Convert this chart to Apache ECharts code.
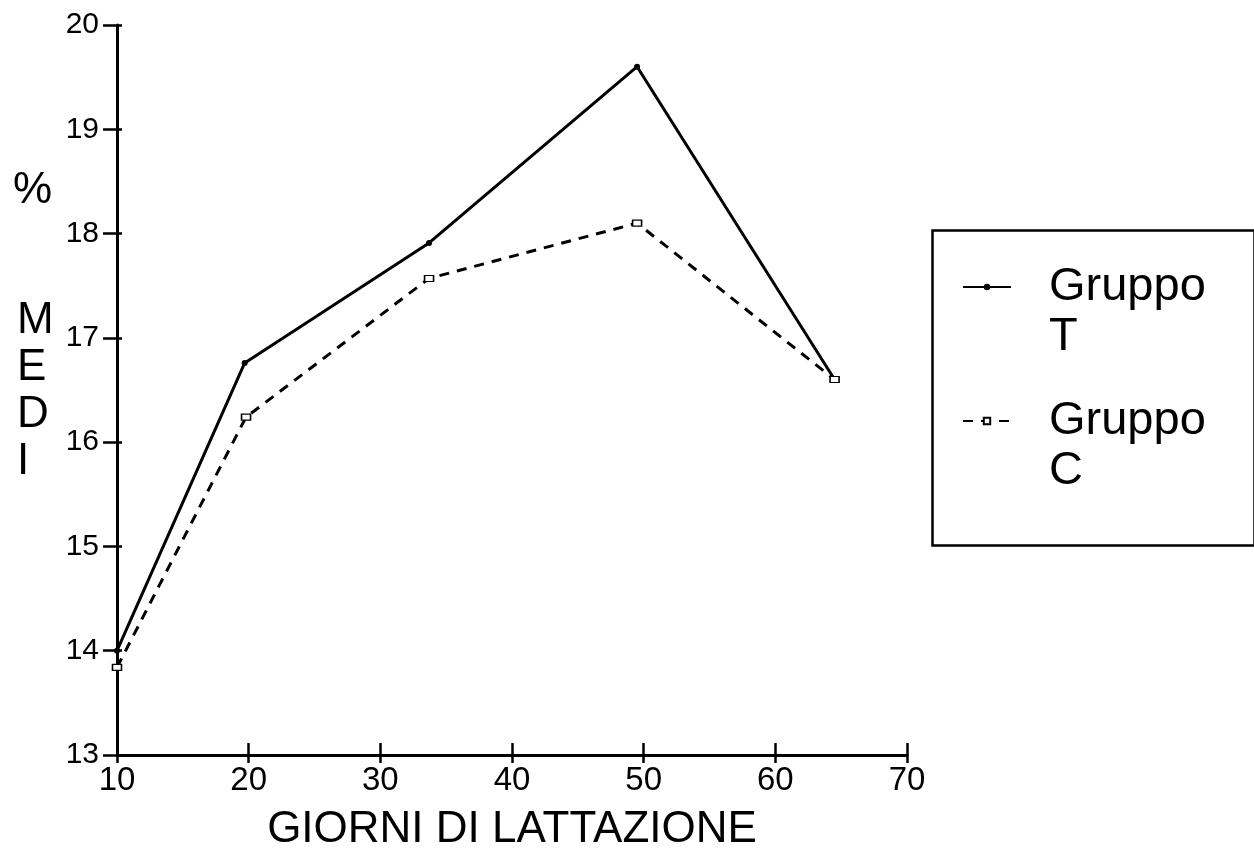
<!DOCTYPE html>
<html>
<head>
<meta charset="utf-8">
<script src="https://cdn.jsdelivr.net/npm/echarts@6/dist/echarts.min.js"></script>
<style>
html,body{margin:0;padding:0;background:#fff;}
#chart{width:1254px;height:854px;}
</style>
</head>
<body>
<div id="chart"></div>
<script>
// Data
var seriesNames = ['Gruppo T', 'Gruppo C'];
var daysT = [10, 19.7, 33.7, 49.5, 64.5];
var valuesT = [14.0, 16.76, 17.91, 19.6, 16.6];
var daysC = [10, 19.8, 33.7, 49.5, 64.5];
var valuesC = [13.84, 16.24, 17.57, 18.1, 16.6];
var xTitle = 'GIORNI DI LATTAZIONE';
var yTitlePercent = '%';
var yTitleWord = 'M\nE\nD\nI';

var FONT = '"Liberation Sans", Arial, sans-serif';

function pairs(xs, ys) { return xs.map(function (x, i) { return [x, ys[i]]; }); }

var hiddenLine = {show: true, onZero: false, lineStyle: {color: '#000', width: 0, opacity: 0}};

var chart = echarts.init(document.getElementById('chart'), null, {renderer: 'canvas'});
chart.setOption({
  backgroundColor: '#ffffff',
  animation: false,
  title: [
    {text: yTitlePercent, left: 8, top: 164, textStyle: {fontFamily: FONT, fontSize: 44, fontWeight: 'normal', color: '#000'}},
    {text: yTitleWord, left: 12, top: 292, textStyle: {fontFamily: FONT, fontSize: 44, lineHeight: 47, fontWeight: 'normal', color: '#000'}}
  ],
  grid: {left: 117, top: 25, width: 790, height: 730, containLabel: false, outerBoundsMode: 'none'},
  xAxis: [
    {
      type: 'value', min: 10, max: 70, interval: 10, position: 'bottom',
      name: xTitle, nameLocation: 'middle', nameGap: 53, nameMoveOverlap: false,
      nameTextStyle: {fontFamily: FONT, fontSize: 44, lineHeight: 44, color: '#000'},
      axisLine: {show: true, onZero: false, lineStyle: {color: '#000', width: 3}},
      axisTick: {show: true, inside: false, length: 8, lineStyle: {color: '#000', width: 2.5}},
      axisLabel: {fontFamily: FONT, fontSize: 33, color: '#000', margin: 9},
      splitLine: {show: false}
    },
    {
      type: 'value', min: 10, max: 70, interval: 10, position: 'bottom',
      axisLine: hiddenLine,
      axisTick: {show: true, inside: true, length: 12, lineStyle: {color: '#000', width: 2.5}},
      axisLabel: {show: false},
      splitLine: {show: false}
    }
  ],
  yAxis: [
    {
      type: 'value', min: 13, max: 20, interval: 1, position: 'left',
      axisLine: {show: true, onZero: false, lineStyle: {color: '#000', width: 3}},
      axisTick: {show: true, inside: false, length: 14, lineStyle: {color: '#000', width: 2.5}},
      axisLabel: {fontFamily: FONT, fontSize: 30, color: '#000', margin: 18},
      splitLine: {show: false}
    },
    {
      type: 'value', min: 13, max: 20, interval: 1, position: 'left',
      axisLine: hiddenLine,
      axisTick: {show: true, inside: true, length: 5, lineStyle: {color: '#000', width: 2.5}},
      axisLabel: {show: false},
      splitLine: {show: false}
    }
  ],
  legend: {
    orient: 'vertical', left: 962, top: 212, padding: 0,
    itemWidth: 48, itemHeight: 8, itemGap: -16,
    data: seriesNames,
    formatter: function (n) { return '\n' + n.replace(' ', '\n'); },
    textStyle: {fontFamily: FONT, fontSize: 47, lineHeight: 50, color: '#000', padding: [0, 0, 0, 33]}
  },
  graphic: [
    {type: 'rect', left: 930, top: 228, shape: {width: 322, height: 315}, style: {fill: 'none', stroke: '#000', lineWidth: 2.5}, z: 100}
  ],
  series: [
    {
      name: seriesNames[0], type: 'line', data: pairs(daysT, valuesT),
      xAxisIndex: 0, yAxisIndex: 0,
      symbol: 'circle', symbolSize: 6, showSymbol: true,
      lineStyle: {color: '#000', width: 3, type: 'solid'},
      itemStyle: {color: '#000'},
      z: 3
    },
    {
      name: seriesNames[1], type: 'line', data: pairs(daysC, valuesC),
      xAxisIndex: 0, yAxisIndex: 0,
      symbol: 'rect', symbolSize: [9, 6], showSymbol: true,
      lineStyle: {color: '#000', width: 3, type: [10, 8]},
      itemStyle: {color: '#fff', borderColor: '#000', borderWidth: 1.3},
      z: 4
    }
  ]
});
</script>
</body>
</html>
